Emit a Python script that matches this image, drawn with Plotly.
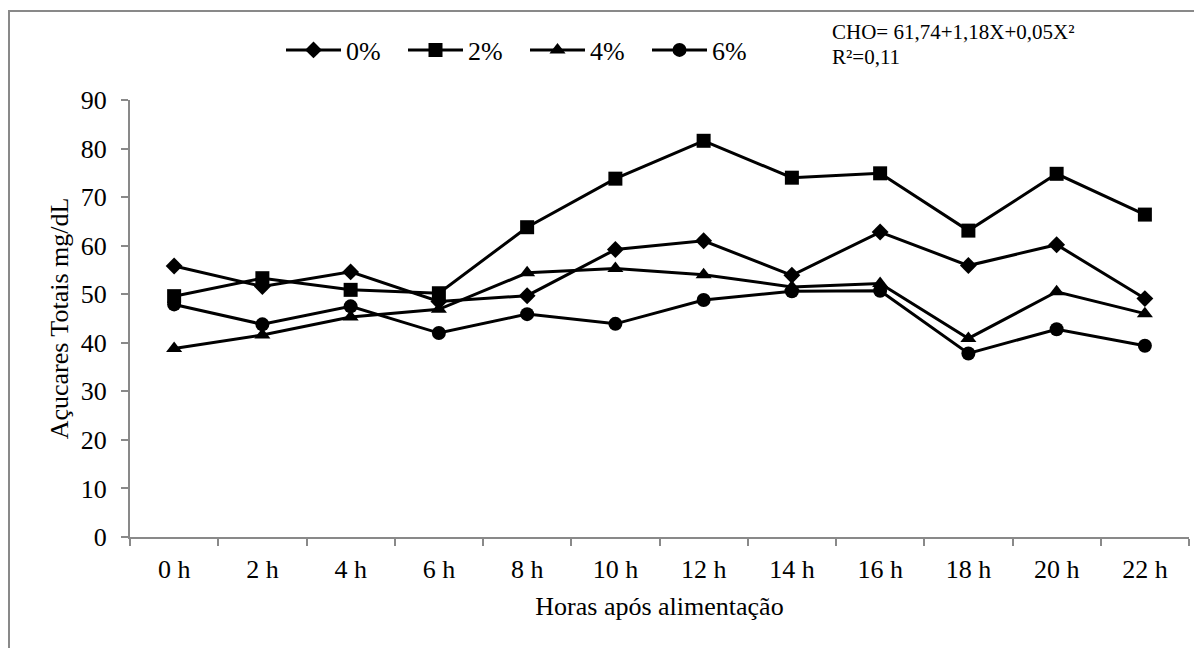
import plotly.graph_objects as go

categories = ["0 h", "2 h", "4 h", "6 h", "8 h", "10 h", "12 h", "14 h", "16 h", "18 h", "20 h", "22 h"]
s0 = [55.8, 51.6, 54.6, 48.5, 49.7, 59.2, 61.0, 53.9, 62.8, 55.9, 60.2, 49.1]
s2 = [49.6, 53.3, 50.9, 50.2, 63.8, 73.8, 81.6, 74.0, 74.9, 63.1, 74.8, 66.4]
s4 = [38.8, 41.6, 45.3, 46.9, 54.4, 55.3, 54.0, 51.5, 52.2, 40.9, 50.5, 46.0]
s6 = [47.9, 43.8, 47.5, 42.0, 45.9, 43.9, 48.8, 50.6, 50.7, 37.8, 42.8, 39.4]
series_names = ["0%", "2%", "4%", "6%"]
symbols = ["diamond", "square", "triangle-up", "circle"]
sizes = [13, 14, 14, 14]
eq_lines = ["CHO= 61,74+1,18X+0,05X²", "R²=0,11"]

FONT = "Liberation Serif, Times New Roman, serif"
AX = "#898989"

fig = go.Figure()
for name, vals, sym, sz in zip(series_names, [s0, s2, s4, s6], symbols, sizes):
    fig.add_trace(go.Scatter(
        x=categories, y=vals, name=name, mode="lines+markers",
        line=dict(color="black", width=3),
        marker=dict(symbol=sym, size=sz, color="black"),
    ))

# page has an 8px body margin; work in window pixel coordinates
OFF = 8
W, H = 1202 - OFF, 648 - OFF
L, T = 130 - OFF, 100 - OFF
R = W - (1189 - OFF)
B = H - (537 - OFF)
pw, ph = W - L - R, H - T - B

def px_x(p):
    return (p - OFF - L) / pw

def px_y(p):
    return (H - B - (p - OFF)) / ph

fig.update_layout(
    width=W, height=H,
    margin=dict(l=L, r=R, t=T, b=B),
    paper_bgcolor="white", plot_bgcolor="white",
    font=dict(family=FONT, size=26, color="black"),
    showlegend=True,
    legend=dict(
        orientation="h", x=px_x(281), y=px_y(50), xanchor="left", yanchor="middle",
        font=dict(family=FONT, size=26, color="black"),
        itemwidth=55, entrywidth=52, bgcolor="rgba(0,0,0,0)",
    ),
    xaxis=dict(
        type="category", range=[-0.5, 11.5], tickson="boundaries",
        ticks="outside", ticklen=7, tickcolor=AX, tickwidth=2,
        showline=True, linecolor=AX, linewidth=2, showgrid=False, zeroline=False,
        tickfont=dict(family=FONT, size=26, color="black"), ticklabelstandoff=8,
        title=dict(text="Horas após alimentação", font=dict(family=FONT, size=26, color="black"), standoff=14),
    ),
    yaxis=dict(
        range=[0, 90], dtick=10, tick0=0,
        ticks="outside", ticklen=7, tickcolor=AX, tickwidth=2,
        showline=True, linecolor=AX, linewidth=2, showgrid=False, zeroline=False,
        tickfont=dict(family=FONT, size=26, color="black"), ticklabelstandoff=9,
        title=dict(text="Açucares Totais mg/dL", font=dict(family=FONT, size=26, color="black"), standoff=5),
    ),
    shapes=[dict(
        type="rect", xref="paper", yref="paper",
        x0=px_x(9), x1=px_x(1225), y0=px_y(670), y1=px_y(11),
        line=dict(color=AX, width=2), fillcolor="rgba(0,0,0,0)", layer="below",
    )],
    annotations=[
        dict(text=eq_lines[0], xref="paper", yref="paper", x=px_x(830), y=px_y(32),
             xanchor="left", yanchor="middle", align="left", showarrow=False,
             font=dict(family=FONT, size=21, color="black")),
        dict(text=eq_lines[1], xref="paper", yref="paper", x=px_x(830), y=px_y(57),
             xanchor="left", yanchor="middle", align="left", showarrow=False,
             font=dict(family=FONT, size=21, color="black")),
    ],
)

fig.write_html("out.html")
